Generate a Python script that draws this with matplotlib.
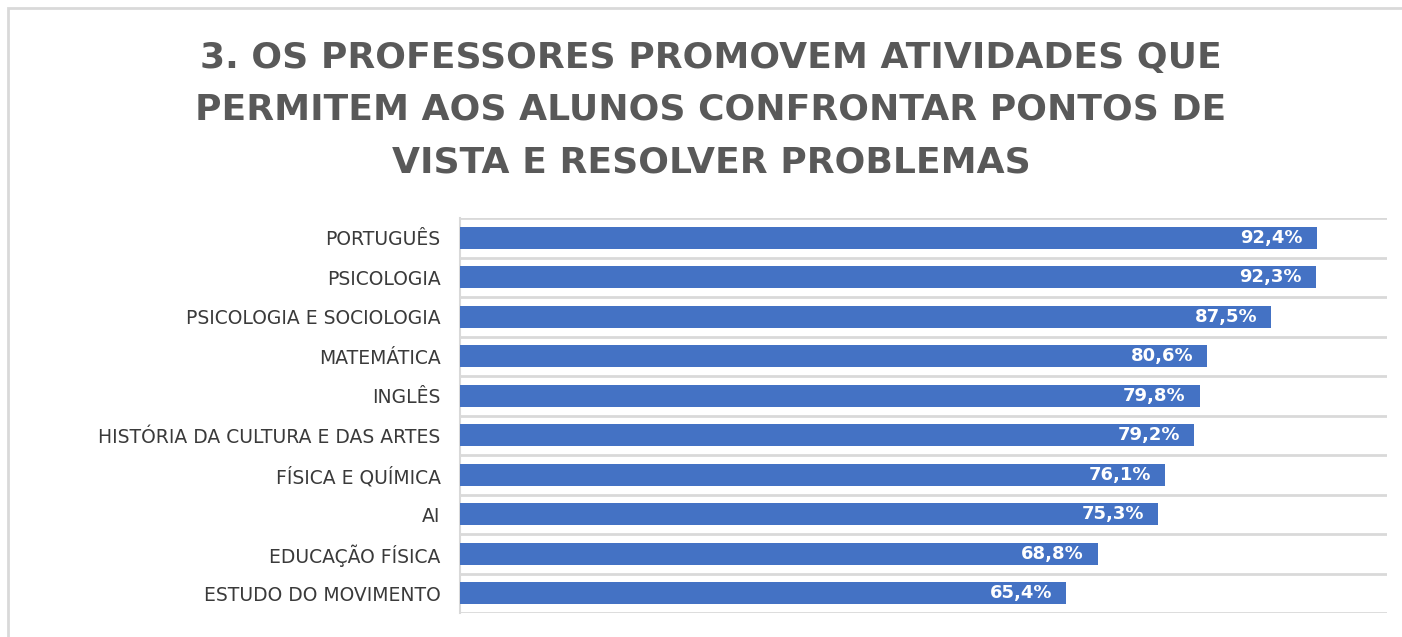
import matplotlib.pyplot as plt
from matplotlib.patches import Rectangle
import numpy as np

# categories top -> bottom
disciplinas = ['PORTUGUÊS', 'PSICOLOGIA', 'PSICOLOGIA E SOCIOLOGIA', 'MATEMÁTICA',
               'INGLÊS', 'HISTÓRIA DA CULTURA E DAS ARTES', 'FÍSICA E QUÍMICA',
               'AI', 'EDUCAÇÃO FÍSICA', 'ESTUDO DO MOVIMENTO']
percentagens = [92.4, 92.3, 87.5, 80.6, 79.8, 79.2, 76.1, 75.3, 68.8, 65.4]

titulo = ('3. OS PROFESSORES PROMOVEM ATIVIDADES QUE\n'
          'PERMITEM AOS ALUNOS CONFRONTAR PONTOS DE\n'
          'VISTA E RESOLVER PROBLEMAS')

azul = '#4472C4'
cinza_grelha = '#d9d9d9'

fig = plt.figure(figsize=(14.02, 6.37), dpi=100)
ax = fig.add_axes([460 / 1402, 1 - 613 / 637, (1387 - 460) / 1402, (613 - 218) / 637])

# outer chart border (top and left visible)
fig.patches.append(Rectangle((8 / 1402, -0.1), 1.2, 1 - 8 / 637 + 0.1,
                             transform=fig.transFigure, fill=False,
                             edgecolor=cinza_grelha, linewidth=2))

y = np.arange(len(disciplinas))
ax.barh(y, percentagens, height=0.56, color=azul, zorder=3)

for yi, v in zip(y, percentagens):
    txt = f'{v:.1f}%'.replace('.', ',')
    ax.annotate(txt, (v, yi), xytext=(-14, 0), textcoords='offset pixels',
                ha='right', va='center', color='white', fontsize=13,
                fontweight='bold', zorder=4)

ax.set_xlim(0, 100)
ax.set_ylim(len(disciplinas) - 0.5, -0.5)
ax.set_yticks(y)
ax.set_yticklabels(disciplinas, fontsize=13.5, color='#3a3a3a')
ax.set_yticks(np.arange(-0.5, len(disciplinas)), minor=True)
ax.tick_params(axis='y', which='both', length=0, pad=14)
ax.set_xticks([])
ax.grid(axis='y', which='minor', color=cinza_grelha, linewidth=2, zorder=0)
for s in ['top', 'right', 'bottom']:
    ax.spines[s].set_visible(False)
ax.spines['left'].set_color(cinza_grelha)
ax.spines['left'].set_linewidth(1.5)

fig.text(711 / 1402, 1 - 110 / 637, titulo, ha='center', va='center',
         fontsize=26, fontweight='bold', color='#595959', linespacing=1.68)

fig.savefig('out.png', dpi=100)
